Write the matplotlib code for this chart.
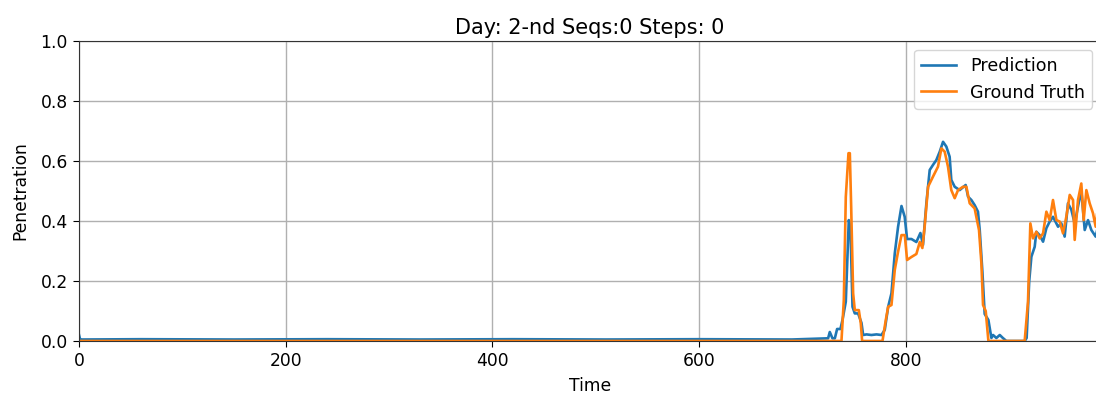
import numpy as np
import matplotlib
matplotlib.use("Agg")
import matplotlib.pyplot as plt

# values (time step, penetration)
pred_t = [0, 1, 3, 60, 150, 240, 330, 420, 510, 600, 690, 724.9, 726.5, 729.1, 731.4,
          733.6, 736.8, 738.8, 742.0, 744.9, 746.5, 748.5, 750.7, 753.9, 757.2, 758.8,
          762.0, 766.8, 771.7, 776.5, 779.7, 783.0, 786.2, 789.4, 792.6, 795.9, 799.0,
          801.3, 805.5, 810.3, 814.2, 816.7, 820.0, 823.2, 826.4, 829.6, 832.9, 836.1,
          839.3, 842.5, 844.1, 847.4, 852.2, 858.0, 860.3, 863.5, 866.7, 869.9, 871.6,
          874.2, 876.4, 880.0, 882.9, 884.5, 887.7, 891.0, 894.0, 897.4, 915.1, 917.0,
          919.5, 921.6, 924.8, 926.4, 929.6, 932.9, 936.1, 939.3, 942.5, 947.4, 950.6,
          953.8, 957.0, 960.3, 963.5, 966.7, 969.9, 973.2, 976.4, 979.6, 983.8, 986.0, 989.0]
pred_v = [0.02, 0.006, 0.005, 0.006, 0.005, 0.006, 0.005, 0.006, 0.005, 0.006, 0.005,
          0.009, 0.03, 0.009, 0.009, 0.04, 0.04, 0.07, 0.131, 0.403, 0.38, 0.114, 0.092,
          0.092, 0.06, 0.02, 0.022, 0.02, 0.022, 0.02, 0.037, 0.114, 0.159, 0.292, 0.381,
          0.45, 0.414, 0.34, 0.34, 0.33, 0.36, 0.32, 0.46, 0.57, 0.587, 0.603, 0.631,
          0.664, 0.648, 0.614, 0.537, 0.514, 0.503, 0.52, 0.481, 0.47, 0.453, 0.431, 0.37,
          0.23, 0.09, 0.07, 0.01, 0.02, 0.01, 0.02, 0.01, 0.0, 0.0, 0.01, 0.2, 0.281, 0.314,
          0.364, 0.353, 0.331, 0.376, 0.398, 0.414, 0.381, 0.392, 0.348, 0.459, 0.437,
          0.392, 0.448, 0.503, 0.37, 0.403, 0.37, 0.348, 0.38, 0.36]

truth_t = [0, 737.8, 740.1, 742.0, 744.6, 745.9, 747.2, 749.1, 750.7, 754.6, 756.5,
           757.8, 777.5, 780.7, 783.0, 786.2, 789.4, 792.6, 795.9, 799.1, 801.3, 805.5,
           810.3, 813.6, 816.1, 818.3, 821.6, 826.4, 831.2, 834.5, 837.7, 840.9, 844.1,
           847.4, 850.6, 855.4, 858.7, 861.9, 866.7, 868.3, 870.9, 873.2, 874.8, 877.4,
           880.0, 915.1, 918.3, 920.6, 923.2, 926.4, 929.6, 932.9, 936.1, 939.3, 942.5,
           945.8, 949.0, 952.2, 955.4, 958.7, 961.9, 963.5, 966.7, 969.9, 972.2, 974.8,
           978.0, 981.2, 983.8, 986.0, 989.0]
truth_v = [0.0, 0.0, 0.137, 0.48, 0.626, 0.626, 0.448, 0.159, 0.103, 0.103, 0.059,
           0.0, 0.0, 0.07, 0.114, 0.12, 0.237, 0.298, 0.353, 0.353, 0.27, 0.28, 0.29,
           0.33, 0.31, 0.381, 0.514, 0.548, 0.581, 0.642, 0.631, 0.581, 0.503, 0.476,
           0.503, 0.514, 0.514, 0.459, 0.442, 0.414, 0.37, 0.26, 0.12, 0.10, 0.0, 0.0,
           0.13, 0.392, 0.342, 0.364, 0.342, 0.359, 0.431, 0.403, 0.47, 0.403, 0.398,
           0.359, 0.414, 0.487, 0.47, 0.337, 0.47, 0.525, 0.403, 0.503, 0.459, 0.426,
           0.381, 0.45, 0.42]

fig = plt.figure(figsize=(10.96, 4.0), dpi=100)
# axes run past the right edge of the picture, as in the reference crop
ax = fig.add_axes([0.0721, 0.1475, 0.9325, 0.75])

ax.plot(pred_t, pred_v, color='#1f77b4', lw=1.9, label='Prediction')
ax.plot(truth_t, truth_v, color='#ff7f0e', lw=1.9, label='Ground Truth')

ax.set_xlim(0, 989)
ax.set_ylim(0, 1.0)
ax.set_xticks([0, 200, 400, 600, 800])
ax.set_yticks(np.arange(0, 1.01, 0.2))
ax.tick_params(labelsize=12.3, length=4.5)
ax.grid(True, color='#b0b0b0', lw=1.0)
for s in ax.spines.values():
    s.set_color('#333333')

ax.set_title('Day: 2-nd Seqs:0 Steps: 0', fontsize=15, pad=5)
ax.set_xlabel('Time', fontsize=12.3, labelpad=5)
ax.set_ylabel('Penetration', fontsize=12.3, labelpad=8)
ax.legend(loc='upper right', fontsize=12.6)

plt.savefig('out.png', dpi=100)
